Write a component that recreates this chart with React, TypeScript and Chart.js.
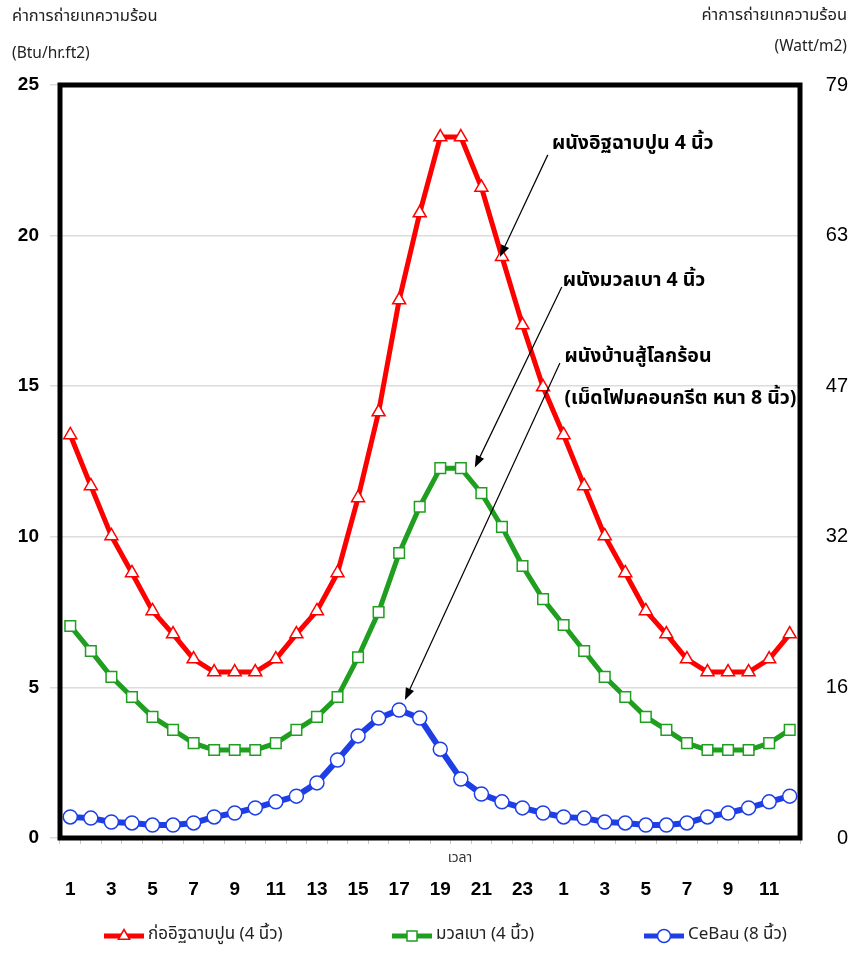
import React, { useEffect, useRef } from "react";
import { Chart, registerables } from "chart.js";

Chart.register(...registerables);

// ---- data ----
const hours = [
  "1", "2", "3", "4", "5", "6", "7", "8", "9", "10", "11", "12",
  "13", "14", "15", "16", "17", "18", "19", "20", "21", "22", "23", "24",
  "1", "2", "3", "4", "5", "6", "7", "8", "9", "10", "11", "12",
];

const brickValues = [
  13.38, 11.69, 10.03, 8.8, 7.54, 6.77, 5.94, 5.51, 5.51, 5.51, 5.94, 6.77,
  7.54, 8.8, 11.29, 14.14, 17.86, 20.75, 23.27, 23.27, 21.6, 19.3, 17.03, 14.97,
  13.38, 11.69, 10.03, 8.8, 7.54, 6.77, 5.94, 5.51, 5.51, 5.51, 5.94, 6.77,
];

const aacValues = [
  7.04, 6.21, 5.35, 4.68, 4.02, 3.59, 3.15, 2.92, 2.92, 2.92, 3.15, 3.59,
  4.02, 4.68, 6.0, 7.5, 9.46, 11.0, 12.28, 12.28, 11.45, 10.33, 9.03, 7.93,
  7.07, 6.21, 5.35, 4.68, 4.02, 3.59, 3.15, 2.92, 2.92, 2.92, 3.15, 3.59,
];

const cebauValues = [
  0.7, 0.66, 0.53, 0.5, 0.43, 0.43, 0.5, 0.7, 0.83, 1.0, 1.2, 1.39,
  1.83, 2.59, 3.39, 3.98, 4.25, 3.98, 2.95, 1.96, 1.46, 1.2, 1.0, 0.83,
  0.7, 0.66, 0.53, 0.5, 0.43, 0.43, 0.5, 0.7, 0.83, 1.0, 1.2, 1.39,
];

const seriesNames = ["ก่ออิฐฉาบปูน (4 นิ้ว)", "มวลเบา (4 นิ้ว)", "CeBau (8 นิ้ว)"];
const leftTickValues = [0, 5, 10, 15, 20, 25];
const rightTickLabels = ["0", "16", "32", "47", "63", "79"];

const leftTitle = ["ค่าการถ่ายเทความร้อน", "(Btu/hr.ft2)"];
const rightTitle = ["ค่าการถ่ายเทความร้อน", "(Watt/m2)"];
const xTitle = "เวลา";

// callouts: text lines, text anchor (category index, value), arrow from/to (index, value)
const calloutTexts = [
  ["ผนังอิฐฉาบปูน 4 นิ้ว"],
  ["ผนังมวลเบา 4 นิ้ว"],
  ["ผนังบ้านสู้โลกร้อน", "(เม็ดโฟมคอนกรีต หนา 8 นิ้ว)"],
];
const calloutTextAt = [
  [23.43, 23.0],
  [23.96, 18.46],
  [24.04, 15.94],
];
const calloutArrowFrom = [
  [23.23, 22.68],
  [23.91, 18.29],
  [23.82, 15.77],
];
const calloutArrowTo = [
  [20.9, 19.29],
  [19.68, 12.3],
  [16.28, 4.58],
];

const THAI = "'Noto Sans Thai', 'Noto Sans Thai UI', 'Loma', 'Garuda', 'Noto Sans', 'Liberation Sans', sans-serif";
const NUM = "'Liberation Sans', Arial, Helvetica, sans-serif";

const colors = ["#ff0000", "#1f9e1f", "#1f3fe6"];
const pointStyles = ["triangle", "rect", "circle"];
const pointRadii = [7.5, 7.5, 7];
const lineWidths = [5, 5, 6];

function drawArrow(ctx: CanvasRenderingContext2D, x1: number, y1: number, x2: number, y2: number) {
  const ang = Math.atan2(y2 - y1, x2 - x1);
  const len = 12;
  const half = 4.5;
  ctx.beginPath();
  ctx.moveTo(x1, y1);
  ctx.lineTo(x2 - Math.cos(ang) * len * 0.8, y2 - Math.sin(ang) * len * 0.8);
  ctx.stroke();
  ctx.beginPath();
  ctx.moveTo(x2, y2);
  ctx.lineTo(
    x2 - Math.cos(ang) * len + Math.sin(ang) * half,
    y2 - Math.sin(ang) * len - Math.cos(ang) * half
  );
  ctx.lineTo(
    x2 - Math.cos(ang) * len - Math.sin(ang) * half,
    y2 - Math.sin(ang) * len + Math.cos(ang) * half
  );
  ctx.closePath();
  ctx.fill();
}

const decorPlugin = {
  id: "decor",
  afterDraw(chart: any) {
    const { ctx, chartArea: ca, scales } = chart;
    const xs = scales.x;
    const ys = scales.y;
    ctx.save();

    // frame
    ctx.strokeStyle = "#000";
    ctx.lineWidth = 5;
    ctx.strokeRect(ca.left, ca.top, ca.right - ca.left, ca.bottom - ca.top);

    // axis titles
    ctx.fillStyle = "#222";
    ctx.font = `16.5px ${THAI}`;
    ctx.textBaseline = "middle";
    ctx.textAlign = "left";
    ctx.fillText(leftTitle[0], 12, 18);
    ctx.font = `15.5px ${THAI}`;
    ctx.fillText(leftTitle[1], 12, 55);
    ctx.textAlign = "right";
    ctx.font = `16.5px ${THAI}`;
    ctx.fillText(rightTitle[0], 847, 17);
    ctx.font = `15.5px ${THAI}`;
    ctx.fillText(rightTitle[1], 847, 48);

    ctx.font = `14px ${THAI}`;
    ctx.textAlign = "center";
    ctx.fillStyle = "#333";
    ctx.fillText(xTitle, (ca.left + ca.right) / 2 + 30, ca.bottom + 21);

    // callouts
    ctx.fillStyle = "#000";
    ctx.strokeStyle = "#000";
    ctx.lineWidth = 1.2;
    ctx.font = `bold 19.5px ${THAI}`;
    ctx.textAlign = "left";
    calloutTexts.forEach((lines, i) => {
      const tx = xs.getPixelForValue(calloutTextAt[i][0]);
      const ty = ys.getPixelForValue(calloutTextAt[i][1]);
      lines.forEach((ln, j) => ctx.fillText(ln, tx, ty + j * 42));
      drawArrow(
        ctx,
        xs.getPixelForValue(calloutArrowFrom[i][0]),
        ys.getPixelForValue(calloutArrowFrom[i][1]),
        xs.getPixelForValue(calloutArrowTo[i][0]),
        ys.getPixelForValue(calloutArrowTo[i][1])
      );
    });

    // legend
    const legendX = [104, 392, 644];
    const legendY = 936;
    ctx.font = `17px ${THAI}`;
    ctx.textBaseline = "middle";
    chart.data.datasets.forEach((ds: any, i: number) => {
      const x0 = legendX[i];
      ctx.strokeStyle = ds.borderColor;
      ctx.lineWidth = 5;
      ctx.beginPath();
      ctx.moveTo(x0, legendY);
      ctx.lineTo(x0 + 40, legendY);
      ctx.stroke();
      ctx.fillStyle = "#fff";
      ctx.lineWidth = 1.5;
      const r = 6.5;
      const cx = x0 + 20;
      ctx.beginPath();
      if (ds.pointStyle === "triangle") {
        ctx.moveTo(cx, legendY - r);
        ctx.lineTo(cx + r * 0.87, legendY + r * 0.5);
        ctx.lineTo(cx - r * 0.87, legendY + r * 0.5);
        ctx.closePath();
      } else if (ds.pointStyle === "rect") {
        ctx.rect(cx - 5, legendY - 5, 10, 10);
      } else {
        ctx.arc(cx, legendY, r, 0, Math.PI * 2);
      }
      ctx.fill();
      ctx.stroke();
      ctx.fillStyle = "#222";
      ctx.fillText(ds.label, x0 + 44, legendY);
    });

    ctx.restore();
  },
};

export default function App() {
  const ref = useRef<HTMLCanvasElement | null>(null);

  useEffect(() => {
    document.body.style.margin = "0";
    const canvas = ref.current;
    if (!canvas) return;
    const series = [brickValues, aacValues, cebauValues];
    const chart = new Chart(canvas, {
      type: "line",
      data: {
        labels: hours,
        datasets: series.map((vals, i) => ({
          label: seriesNames[i],
          data: vals,
          borderColor: colors[i],
          backgroundColor: "#ffffff",
          borderWidth: lineWidths[i],
          pointStyle: pointStyles[i] as any,
          pointRadius: pointRadii[i],
          pointBorderWidth: 1.5,
          pointBackgroundColor: "#ffffff",
          pointBorderColor: colors[i],
          tension: 0,
          fill: false,
        })),
      },
      options: {
        animation: false,
        responsive: false,
        maintainAspectRatio: false,
        layout: { padding: { top: 85, right: 9, bottom: 48, left: 0 } },
        plugins: { legend: { display: false }, tooltip: { enabled: false }, title: { display: false } },
        scales: {
          x: {
            type: "category",
            offset: true,
            grid: {
              offset: true,
              drawOnChartArea: false,
              drawTicks: true,
              tickLength: 6,
              color: "#c8c8c8",
            },
            border: { display: false },
            ticks: {
              autoSkip: false,
              maxRotation: 0,
              minRotation: 0,
              padding: 34,
              color: "#000",
              font: { family: NUM, size: 19, weight: "bold" },
              callback: (_v: any, i: number) => (i % 2 === 0 ? hours[i] : ""),
            },
            afterFit: (s: any) => {
              s.height = 70;
            },
          },
          y: {
            position: "left",
            min: 0,
            max: 25,
            afterBuildTicks: (s: any) => {
              s.ticks = leftTickValues.map((v) => ({ value: v }));
            },
            grid: { color: "#dcdcdc", lineWidth: 1.5, tickLength: 10 },
            border: { display: false },
            ticks: {
              padding: 11,
              color: "#000",
              font: { family: NUM, size: 19, weight: "bold" },
            },
            afterFit: (s: any) => {
              s.width = 60;
            },
          },
          y2: {
            position: "right",
            min: 0,
            max: 25,
            afterBuildTicks: (s: any) => {
              s.ticks = leftTickValues.map((v) => ({ value: v }));
            },
            grid: { drawOnChartArea: false, drawTicks: false },
            border: { display: false },
            ticks: {
              crossAlign: "far",
              padding: 0,
              color: "#000",
              font: { family: NUM, size: 20 },
              callback: (_v: any, i: number) => rightTickLabels[i],
            },
            afterFit: (s: any) => {
              s.width = 48;
            },
          },
        },
      } as any,
      plugins: [decorPlugin],
    });
    return () => chart.destroy();
  }, []);

  return (
    <div style={{ width: 857, height: 956 }}>
      <canvas ref={ref} width={857} height={956} style={{ display: "block", width: 857, height: 956 }} />
    </div>
  );
}
